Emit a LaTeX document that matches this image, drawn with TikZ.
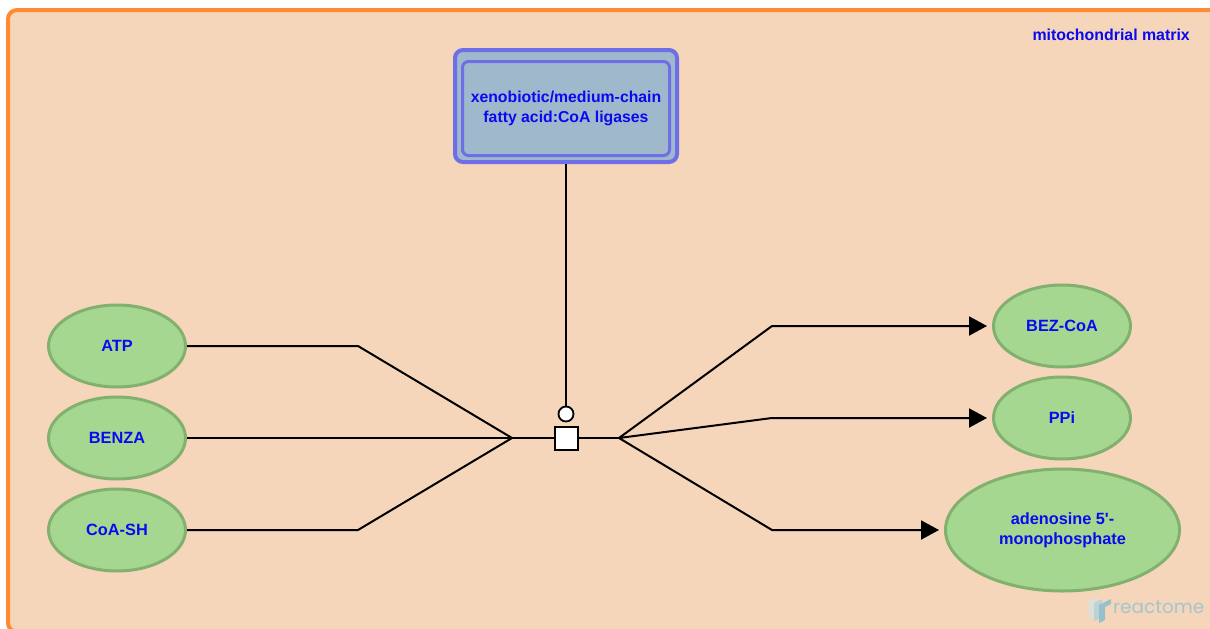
\documentclass[tikz,border=0pt]{standalone}
\usepackage{fontspec}
\setmainfont{Liberation Sans}[Ligatures=TeXOff]
\newfontfamily\logofont{Poppins}
\usetikzlibrary{shapes.geometric,arrows.meta}
\definecolor{peach}{HTML}{F5D6BA}
\definecolor{compborder}{HTML}{FF8A33}
\definecolor{chemfill}{HTML}{A6D790}
\definecolor{chemborder}{HTML}{82B06E}
\definecolor{enzfill}{HTML}{A0B8CC}
\definecolor{enzborder}{HTML}{6E6EE6}
\definecolor{labelblue}{HTML}{0A0AF0}
\definecolor{logotext}{HTML}{A3C6CE}
\definecolor{logoa}{HTML}{DCE0DA}
\definecolor{logob}{HTML}{BCD3D6}
\definecolor{logoc}{HTML}{96C0CC}
\tikzset{
  chem/.style={ellipse, draw=chemborder, fill=chemfill, line width=3pt, inner sep=0pt,
    text=labelblue, align=center, font=\fontsize{16.3}{20}\selectfont\bfseries},
  enzouter/.style={rectangle, rounded corners=8pt, draw=enzborder, fill=enzfill, line width=4pt,
    minimum width=222pt, minimum height=112pt, inner sep=0pt},
  enzinner/.style={rectangle, rounded corners=6pt, draw=enzborder, fill=enzfill, line width=3pt,
    minimum width=207pt, minimum height=94pt, inner sep=0pt, text=labelblue, align=center,
    font=\fontsize{15.8}{20}\selectfont\bfseries},
  link/.style={draw=black, line width=2pt, line join=miter},
  prod/.style={link, -{Triangle[length=18pt,width=19pt]}, shorten >=5pt},
  rxnbox/.style={rectangle, draw=black, fill=white, line width=2pt, minimum size=23pt, inner sep=0pt},
  catcircle/.style={circle, draw=black, fill=white, line width=1.8pt, minimum size=15pt, inner sep=0pt},
}
\begin{document}
\begin{tikzpicture}[x=1pt,y=-1pt]
\useasboundingbox (0,0) rectangle (1210,629);
\fill[white] (0,0) rectangle (1210,629);
% compartment
\draw[compborder, fill=peach, line width=4pt, rounded corners=9pt] (8,10) rectangle (1240,632);
\node[anchor=east, text=labelblue, font=\fontsize{15.9}{18}\selectfont\bfseries, inner sep=0pt] (comp) at (1190,35) {mitochondrial matrix};

% enzyme
\node[enzouter] (enzout) at (566,106) {};
\node[enzinner] (enz) at (566,108.5) {xenobiotic/medium-chain\\fatty acid:CoA ligases};

% reaction
\node[rxnbox] (rxn) at (566,438) {};
\node[catcircle] (cat) at (566,414) {};
\coordinate (inj) at (512,438);
\coordinate (outj) at (619,438);

% inputs
\node[chem, minimum width=137pt, minimum height=82pt] (atp) at (117,346) {ATP};
\node[chem, minimum width=137pt, minimum height=82pt] (benza) at (117,438) {BENZA};
\node[chem, minimum width=137pt, minimum height=82pt] (coash) at (117,530) {CoA-SH};

% outputs
\node[chem, minimum width=137pt, minimum height=82pt] (bezcoa) at (1062,326) {BEZ-CoA};
\node[chem, minimum width=137pt, minimum height=82pt] (ppi) at (1062,418) {PPi};
\node[chem, minimum width=234pt, minimum height=122pt] (amp) at (1062.5,530) {adenosine 5'-\\monophosphate};

\coordinate (atpb) at (358,346);
\coordinate (coab) at (358,530);
\coordinate (bezb) at (772,326);
\coordinate (ppib) at (772,418);
\coordinate (ampb) at (772,530);

\draw[link] (atp.east) -- (atpb) -- (inj);
\draw[link] (benza.east) -- (inj);
\draw[link] (coash.east) -- (coab) -- (inj);
\draw[link] (inj) -- (rxn.west);
\draw[link] (rxn.east) -- (outj);
\draw[prod] (outj) -- (bezb) -- (bezcoa.west);
\draw[prod] (outj) -- (ppib) -- (ppi.west);
\draw[prod] (outj) -- (ampb) -- (amp.west);
\draw[link] (enzout.south) -- (cat.north);

% reactome logo
\fill[logoa] (1089,601) -- (1097,597) -- (1097,615) -- (1089,619) -- cycle;
\fill[logob] (1094,603) -- (1102,599) -- (1102,617) -- (1094,621) -- cycle;
\fill[logoc] (1099,605) -- (1111,599) -- (1111,604) -- (1105,607) -- (1105,620) -- (1099,623) -- cycle;
\node[anchor=base west, text=logotext, font=\logofont\fontsize{18.5}{22}\selectfont, inner sep=0pt] (logo) at (1113,613) {reactome};
\end{tikzpicture}
\end{document}
